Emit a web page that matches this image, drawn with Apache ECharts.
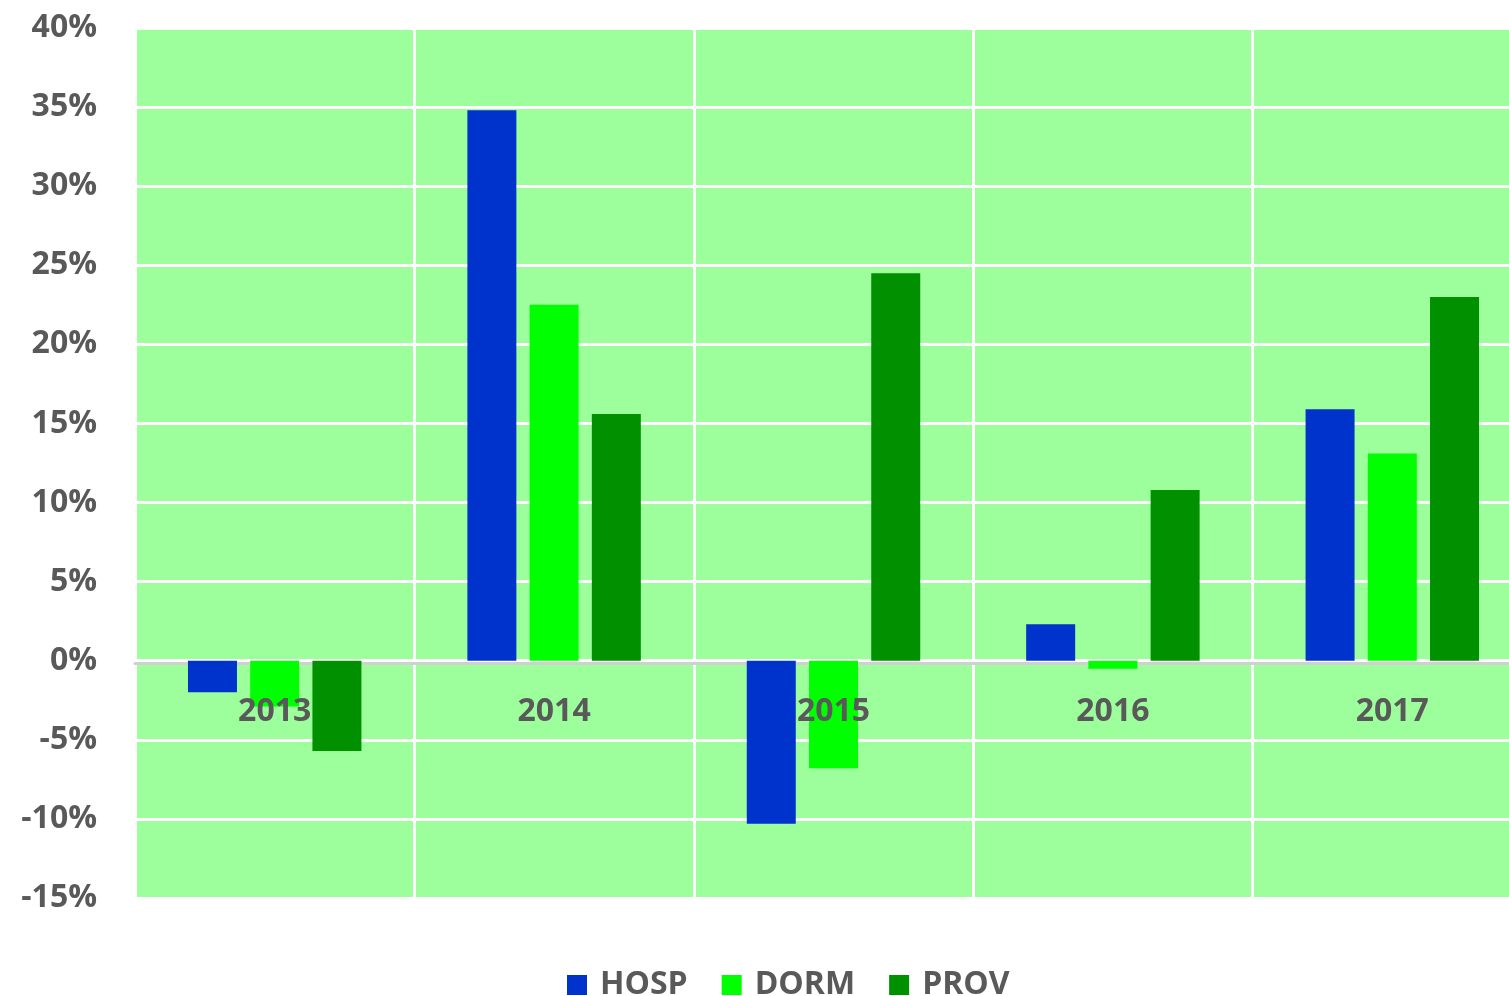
<!DOCTYPE html>
<html>
<head>
<meta charset="utf-8">
<script src="https://cdn.jsdelivr.net/npm/echarts@6/dist/echarts.min.js"></script>
<style>
	html, body { margin: 0; padding: 0; background: #fff; }
	#main { width: 1509px; height: 996px; }
</style>
</head>
<body>
<div id="main"></div>
<script>
// 数据
var years = ['2013', '2014', '2015', '2016', '2017'];
var hosp = [-2.0, 34.8, -10.3, 2.3, 15.9];
var dorm = [-2.9, 22.5, -6.8, -0.5, 13.1];
var prov = [-5.7, 15.6, 24.5, 10.8, 23.0];

var labelFont = { color: '#595959', fontFamily: 'Open Sans', fontWeight: 'bold', fontSize: 32 };

var myChart = echarts.init(document.getElementById('main'));
myChart.setOption({
	animation: false,
	grid: {
		left: 135, width: 1397, top: 28, bottom: 98,
		backgroundColor: '#9cff9c', show: true, borderWidth: 0,
		outerBoundsMode: 'none', containLabel: false
	},
	legend: {
		top: 964,
		left: 562,
		itemWidth: 20,
		itemHeight: 20,
		itemGap: 34,
		icon: 'rect',
		textStyle: Object.assign({ padding: [0, 0, 0, 8] }, labelFont),
		data: ['HOSP', 'DORM', 'PROV']
	},
	xAxis: [
		{
			// 零线和竖向分隔线，在柱子下面
			type: 'category',
			data: years,
			offset: -235,
			axisLine: { onZero: false, lineStyle: { color: '#d0d0d0', width: 3 } },
			axisTick: { show: false },
			axisLabel: { show: false },
			splitLine: { show: true, lineStyle: { color: '#fff', width: 3 } },
			z: 0
		},
		{
			// 年份标签，压在柱子上面
			type: 'category',
			data: years,
			position: 'bottom',
			offset: -235,
			axisLine: { show: false },
			axisTick: { show: false },
			axisLabel: Object.assign({ margin: 33 }, labelFont),
			splitLine: { show: false },
			z: 5
		}
	],
	yAxis: {
		type: 'value',
		min: -15,
		max: 40,
		interval: 5,
		axisLine: { show: false },
		axisTick: { show: false },
		axisLabel: Object.assign({ margin: 38, formatter: '{value}%' }, labelFont),
		splitLine: { lineStyle: { color: '#fff', width: 3 } }
	},
	series: [
		{ name: 'HOSP', type: 'bar', data: hosp, barWidth: 49, barGap: '27%', itemStyle: { color: '#0033cc' } },
		{ name: 'DORM', type: 'bar', data: dorm, barWidth: 49, barGap: '27%', itemStyle: { color: '#00ff00' } },
		{ name: 'PROV', type: 'bar', data: prov, barWidth: 49, barGap: '27%', itemStyle: { color: '#009000' } }
	]
});
</script>
</body>
</html>
